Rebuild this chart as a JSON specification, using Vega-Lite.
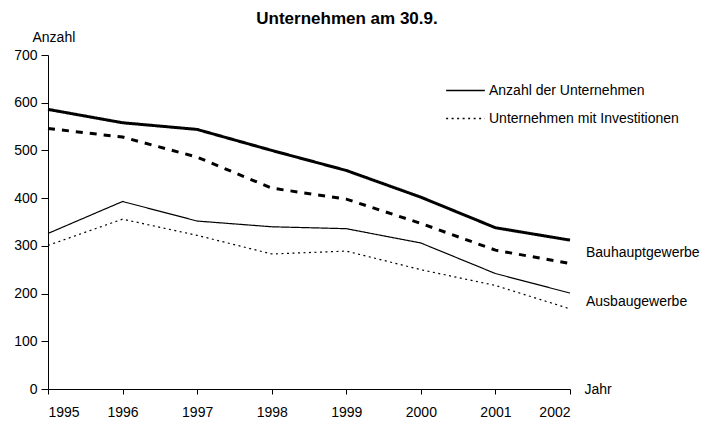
{
  "$schema": "https://vega.github.io/schema/vega-lite/v6.json",
  "autosize": "none",
  "width": 522,
  "height": 334,
  "padding": {"left": 48, "top": 55, "right": 141, "bottom": 32},
  "background": "white",
  "config": {
    "font": "Liberation Sans",
    "view": {"stroke": null},
    "axis": {"domainColor": "black", "tickColor": "black", "labelColor": "black", "titleColor": "black", "grid": false, "labelFontSize": 14, "titleFontSize": 14, "titleFontWeight": "normal", "domainWidth": 1, "tickWidth": 1}
  },
  "title": {"text": "Unternehmen am 30.9.", "fontSize": 17, "fontWeight": "bold", "color": "black", "anchor": "middle", "frame": "group", "dx": 38, "offset": -11, "baseline": "alphabetic"},
  "data": {"values": [
    {"jahr": 1995, "gewerbe": "Bauhauptgewerbe", "typ": "Anzahl der Unternehmen", "wert": 586},
    {"jahr": 1996, "gewerbe": "Bauhauptgewerbe", "typ": "Anzahl der Unternehmen", "wert": 558},
    {"jahr": 1997, "gewerbe": "Bauhauptgewerbe", "typ": "Anzahl der Unternehmen", "wert": 544},
    {"jahr": 1998, "gewerbe": "Bauhauptgewerbe", "typ": "Anzahl der Unternehmen", "wert": 500},
    {"jahr": 1999, "gewerbe": "Bauhauptgewerbe", "typ": "Anzahl der Unternehmen", "wert": 458},
    {"jahr": 2000, "gewerbe": "Bauhauptgewerbe", "typ": "Anzahl der Unternehmen", "wert": 402},
    {"jahr": 2001, "gewerbe": "Bauhauptgewerbe", "typ": "Anzahl der Unternehmen", "wert": 338},
    {"jahr": 2002, "gewerbe": "Bauhauptgewerbe", "typ": "Anzahl der Unternehmen", "wert": 312},
    {"jahr": 1995, "gewerbe": "Bauhauptgewerbe", "typ": "Unternehmen mit Investitionen", "wert": 546},
    {"jahr": 1996, "gewerbe": "Bauhauptgewerbe", "typ": "Unternehmen mit Investitionen", "wert": 528},
    {"jahr": 1997, "gewerbe": "Bauhauptgewerbe", "typ": "Unternehmen mit Investitionen", "wert": 486},
    {"jahr": 1998, "gewerbe": "Bauhauptgewerbe", "typ": "Unternehmen mit Investitionen", "wert": 421},
    {"jahr": 1999, "gewerbe": "Bauhauptgewerbe", "typ": "Unternehmen mit Investitionen", "wert": 398},
    {"jahr": 2000, "gewerbe": "Bauhauptgewerbe", "typ": "Unternehmen mit Investitionen", "wert": 347},
    {"jahr": 2001, "gewerbe": "Bauhauptgewerbe", "typ": "Unternehmen mit Investitionen", "wert": 291},
    {"jahr": 2002, "gewerbe": "Bauhauptgewerbe", "typ": "Unternehmen mit Investitionen", "wert": 263},
    {"jahr": 1995, "gewerbe": "Ausbaugewerbe", "typ": "Anzahl der Unternehmen", "wert": 326},
    {"jahr": 1996, "gewerbe": "Ausbaugewerbe", "typ": "Anzahl der Unternehmen", "wert": 393},
    {"jahr": 1997, "gewerbe": "Ausbaugewerbe", "typ": "Anzahl der Unternehmen", "wert": 352},
    {"jahr": 1998, "gewerbe": "Ausbaugewerbe", "typ": "Anzahl der Unternehmen", "wert": 340},
    {"jahr": 1999, "gewerbe": "Ausbaugewerbe", "typ": "Anzahl der Unternehmen", "wert": 336},
    {"jahr": 2000, "gewerbe": "Ausbaugewerbe", "typ": "Anzahl der Unternehmen", "wert": 306},
    {"jahr": 2001, "gewerbe": "Ausbaugewerbe", "typ": "Anzahl der Unternehmen", "wert": 242},
    {"jahr": 2002, "gewerbe": "Ausbaugewerbe", "typ": "Anzahl der Unternehmen", "wert": 201},
    {"jahr": 1995, "gewerbe": "Ausbaugewerbe", "typ": "Unternehmen mit Investitionen", "wert": 301},
    {"jahr": 1996, "gewerbe": "Ausbaugewerbe", "typ": "Unternehmen mit Investitionen", "wert": 356},
    {"jahr": 1997, "gewerbe": "Ausbaugewerbe", "typ": "Unternehmen mit Investitionen", "wert": 322},
    {"jahr": 1998, "gewerbe": "Ausbaugewerbe", "typ": "Unternehmen mit Investitionen", "wert": 283},
    {"jahr": 1999, "gewerbe": "Ausbaugewerbe", "typ": "Unternehmen mit Investitionen", "wert": 289},
    {"jahr": 2000, "gewerbe": "Ausbaugewerbe", "typ": "Unternehmen mit Investitionen", "wert": 250},
    {"jahr": 2001, "gewerbe": "Ausbaugewerbe", "typ": "Unternehmen mit Investitionen", "wert": 217},
    {"jahr": 2002, "gewerbe": "Ausbaugewerbe", "typ": "Unternehmen mit Investitionen", "wert": 168}
  ]},
  "encoding": {
    "x": {"field": "jahr", "type": "quantitative", "scale": {"domain": [1995, 2002], "nice": false, "zero": false},
      "axis": {"values": [1995, 1996, 1997, 1998, 1999, 2000, 2001, 2002], "format": "d", "tickSize": 5, "labelPadding": 11, "title": "Jahr", "titleX": 536, "titleY": 0, "titleAlign": "left", "titleBaseline": "middle", "titleAnchor": null}},
    "y": {"field": "wert", "type": "quantitative", "scale": {"domain": [0, 700], "nice": false},
      "axis": {"values": [0, 100, 200, 300, 400, 500, 600, 700], "tickSize": 7, "labelPadding": 4, "title": "Anzahl", "titleAngle": 0, "titleX": -16, "titleY": -18, "titleAlign": "left", "titleBaseline": "middle", "titleAnchor": null}}
  },
  "layer": [
    {
      "transform": [{"filter": "datum.gewerbe === 'Ausbaugewerbe'"}],
      "mark": {"type": "line", "color": "black", "strokeWidth": 1.2},
      "encoding": {
        "detail": {"field": "typ"},
        "strokeDash": {"field": "typ", "type": "nominal",
          "scale": {"domain": ["Anzahl der Unternehmen", "Unternehmen mit Investitionen"], "range": [[1, 0], [2, 3.5]]},
          "legend": {"orient": "none", "legendX": 397, "legendY": 15, "title": null, "symbolType": "stroke", "symbolSize": 1500, "symbolStrokeWidth": 1.5, "symbolStrokeColor": "black", "labelFontSize": 14, "labelColor": "black", "labelOffset": 3, "labelLimit": 400, "rowPadding": 0}}
      }
    },
    {
      "transform": [{"filter": "datum.gewerbe === 'Bauhauptgewerbe'"}],
      "mark": {"type": "line", "color": "black", "strokeWidth": 3},
      "encoding": {
        "detail": {"field": "typ"},
        "strokeDash": {"field": "typ", "type": "nominal",
          "scale": {"domain": ["Anzahl der Unternehmen", "Unternehmen mit Investitionen"], "range": [[1, 0], [7, 7]]},
          "legend": null}
      }
    },
    {
      "transform": [
        {"filter": "datum.jahr === 2002"},
        {"aggregate": [{"op": "mean", "field": "wert", "as": "wert"}], "groupby": ["gewerbe", "jahr"]}
      ],
      "mark": {"type": "text", "align": "left", "baseline": "middle", "dx": 16, "dy": 1, "fontSize": 14, "color": "black"},
      "encoding": {"text": {"field": "gewerbe"}}
    }
  ],
  "resolve": {"scale": {"strokeDash": "independent"}}
}
